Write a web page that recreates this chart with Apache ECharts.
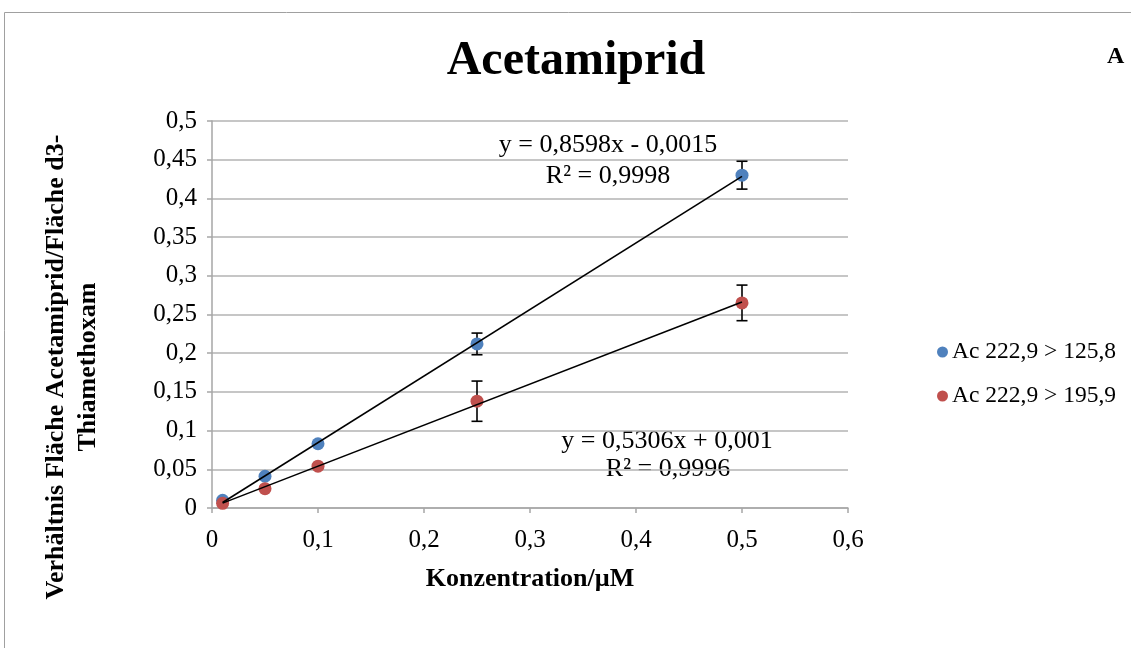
<!DOCTYPE html>
<html>
<head>
<meta charset="utf-8">
<script src="https://cdn.jsdelivr.net/npm/echarts@6/dist/echarts.min.js"></script>
<style>html,body{margin:0;padding:0;background:#fff;}#c{width:1131px;height:648px;}</style>
</head>
<body>
<div id="c"></div>
<script>
const concentrations = [0.01, 0.05, 0.1, 0.25, 0.5];
const blueValues = [0.010, 0.041, 0.083, 0.212, 0.430];
const blueErrors = [0.002, 0.002, 0.002, 0.014, 0.018];
const redValues = [0.006, 0.025, 0.054, 0.138, 0.265];
const redErrors = [0.002, 0.002, 0.002, 0.026, 0.023];
const blueTrendX = [0.01, 0.5];
const blueTrendY = [0.0071, 0.4284];
const redTrendX = [0.01, 0.5];
const redTrendY = [0.0063, 0.2663];
const seriesNames = ['Ac 222,9 > 125,8', 'Ac 222,9 > 195,9'];
const blueEquation = ['y = 0,8598x - 0,0015', 'R² = 0,9998'];
const redEquation = ['y = 0,5306x + 0,001', 'R² = 0,9996'];
const yAxisTitle = 'Verhältnis Fläche Acetamiprid/Fläche d3-\nThiamethoxam';
const xAxisTitle = 'Konzentration/µM';

const FONT = '"Liberation Serif", "Times New Roman", serif';
const BLUE = '#4F81BD', RED = '#C0504D';

function zip(xs, ys) { return xs.map((x, i) => [x, ys[i]]); }
function errData(xs, ys, es) { return xs.map((x, i) => [x, ys[i] - es[i], ys[i] + es[i]]); }
function fmt(v) { return String(+v.toFixed(2)).replace('.', ','); }

function errorRender(params, api) {
  const x = api.value(0);
  const lo = api.coord([x, api.value(1)]);
  const hi = api.coord([x, api.value(2)]);
  const w = 5.5;
  const style = { stroke: '#000', lineWidth: 1.6 };
  return {
    type: 'group',
    children: [
      { type: 'line', shape: { x1: lo[0], y1: lo[1], x2: hi[0], y2: hi[1] }, style },
      { type: 'line', shape: { x1: lo[0] - w, y1: lo[1], x2: lo[0] + w, y2: lo[1] }, style },
      { type: 'line', shape: { x1: hi[0] - w, y1: hi[1], x2: hi[0] + w, y2: hi[1] }, style }
    ]
  };
}

const chart = echarts.init(document.getElementById('c'), null, { renderer: 'canvas' });
chart.setOption({
  animation: false,
  backgroundColor: '#fff',
  textStyle: { fontFamily: FONT, color: '#000' },
  title: [
    { text: 'Acetamiprid', left: 571, top: 33, textAlign: 'center',
      textStyle: { fontFamily: FONT, fontSize: 48, fontWeight: 'bold', color: '#000' } },
    { text: 'A', left: 1102, top: 40,
      textStyle: { fontFamily: FONT, fontSize: 24, fontWeight: 'bold', color: '#000' } }
  ],
  grid: { left: 212, top: 121, width: 636, height: 387 },
  legend: {
    orient: 'vertical', left: 932, top: 335, itemGap: 20,
    itemWidth: 11, itemHeight: 11,
    data: [{ name: seriesNames[0], icon: 'circle' }, { name: seriesNames[1], icon: 'circle' }],
    textStyle: { fontFamily: FONT, fontSize: 23.5, color: '#000', padding: [0, 0, 0, -1] }
  },
  xAxis: {
    type: 'value', min: 0, max: 0.6, interval: 0.1,
    name: xAxisTitle, nameLocation: 'middle', nameGap: 58,
    nameTextStyle: { fontFamily: FONT, fontSize: 26, fontWeight: 'bold', color: '#000' },
    axisLine: { show: true, lineStyle: { color: '#a6a6a6', width: 1.5 } },
    axisTick: { show: true, length: 5, lineStyle: { color: '#a6a6a6', width: 1.5 } },
    splitLine: { show: false },
    axisLabel: { fontFamily: FONT, fontSize: 25, color: '#000', margin: 20, formatter: fmt }
  },
  yAxis: {
    type: 'value', min: 0, max: 0.5, interval: 0.05,
    axisLine: { show: true, lineStyle: { color: '#a6a6a6', width: 1.5 } },
    axisTick: { show: true, length: 5, lineStyle: { color: '#a6a6a6', width: 1.5 } },
    splitLine: { show: true, lineStyle: { color: '#b3b3b3', width: 1.5 } },
    axisLabel: { fontFamily: FONT, fontSize: 25, color: '#000', margin: 15, formatter: fmt }
  },
  series: [
    { type: 'custom', renderItem: errorRender, data: errData(concentrations, blueValues, blueErrors), z: 2, silent: true },
    { type: 'custom', renderItem: errorRender, data: errData(concentrations, redValues, redErrors), z: 2, silent: true },
    { name: seriesNames[0], type: 'scatter', symbol: 'circle', symbolSize: 13,
      itemStyle: { color: BLUE, opacity: 1 }, data: zip(concentrations, blueValues), z: 3 },
    { name: seriesNames[1], type: 'scatter', symbol: 'circle', symbolSize: 13,
      itemStyle: { color: RED, opacity: 1 }, data: zip(concentrations, redValues), z: 3 },
    { type: 'line', data: zip(blueTrendX, blueTrendY), symbol: 'none', silent: true,
      lineStyle: { color: '#000', width: 1.6 }, z: 4 },
    { type: 'line', data: zip(redTrendX, redTrendY), symbol: 'none', silent: true,
      lineStyle: { color: '#000', width: 1.6 }, z: 4 }
  ],
  graphic: [
    { type: 'rect', shape: { x: 4.5, y: 12.5, width: 1200, height: 800 },
      style: { fill: 'none', stroke: '#a0a0a0', lineWidth: 1 }, z: -10, silent: true },
    { type: 'text', x: 72, y: 367, rotation: Math.PI / 2,
      style: { text: yAxisTitle, font: 'bold 26px ' + FONT, fill: '#000', textAlign: 'center', textVerticalAlign: 'middle', lineHeight: 32 } },
    { type: 'text', x: 608, y: 145,
      style: { text: blueEquation[0], font: '26px ' + FONT, fill: '#000', textAlign: 'center', textVerticalAlign: 'middle' } },
    { type: 'text', x: 608, y: 176,
      style: { text: blueEquation[1], font: '26px ' + FONT, fill: '#000', textAlign: 'center', textVerticalAlign: 'middle' } },
    { type: 'text', x: 667, y: 441,
      style: { text: redEquation[0], font: '26px ' + FONT, fill: '#000', textAlign: 'center', textVerticalAlign: 'middle' } },
    { type: 'text', x: 668, y: 469,
      style: { text: redEquation[1], font: '26px ' + FONT, fill: '#000', textAlign: 'center', textVerticalAlign: 'middle' } }
  ]
});
</script>
</body>
</html>
